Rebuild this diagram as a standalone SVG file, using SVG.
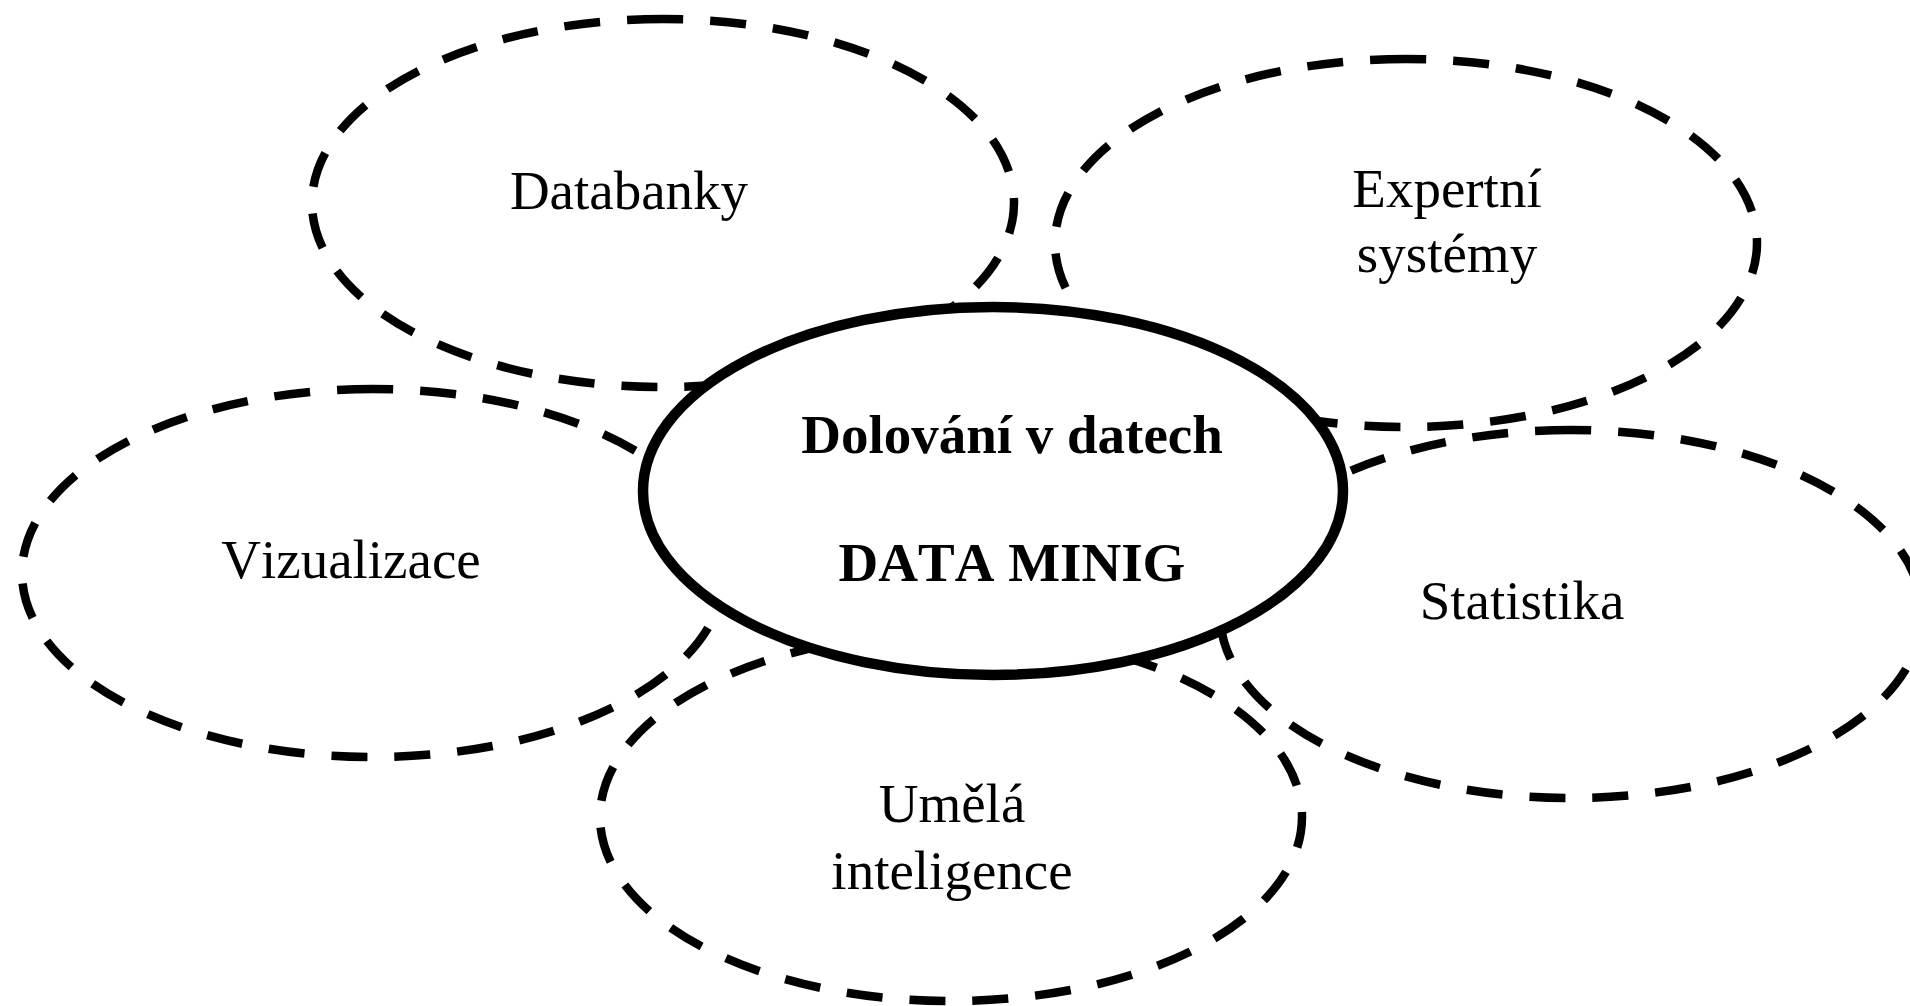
<svg xmlns="http://www.w3.org/2000/svg" width="1910" height="1006" viewBox="0 0 1910 1006">
  <style>
    .area { fill: none; stroke: #000; stroke-width: 8.5; stroke-dasharray: 36 27; stroke-linecap: butt; }
    .core { fill: #fff; stroke: #000; stroke-width: 10.5; }
    .lbl { font-family: "Liberation Serif", "Times New Roman", serif; font-size: 55px; fill: #000; text-anchor: middle; font-kerning: none; }
    .main { font-family: "Liberation Serif", "Times New Roman", serif; font-size: 55px; font-weight: bold; fill: #000; text-anchor: middle; font-kerning: none; }
  </style>
  <rect width="1910" height="1006" fill="#fff"/>

  <!-- surrounding fields: dashed outlines drawn from the top, counter-clockwise -->
  <g id="databanky">
    <path class="area" d="M663,19 A351,184 0 0 0 663,387 A351,184 0 0 0 663,19 Z"/>
    <text class="lbl" x="629" y="209">Databanky</text>
  </g>
  <g id="expertni-systemy">
    <path class="area" d="M1406,59 A351,184 0 0 0 1406,427 A351,184 0 0 0 1406,59 Z"/>
    <text class="lbl" x="1447" y="207">Expertní</text>
    <text class="lbl" x="1447" y="272">systémy</text>
  </g>
  <g id="vizualizace">
    <path class="area" d="M373,389 A351,184 0 0 0 373,757 A351,184 0 0 0 373,389 Z"/>
    <text class="lbl" x="351" y="578">Vizualizace</text>
  </g>
  <g id="statistika">
    <path class="area" d="M1571,430 A351,184 0 0 0 1571,798 A351,184 0 0 0 1571,430 Z"/>
    <text class="lbl" x="1522" y="619">Statistika</text>
  </g>
  <g id="umela-inteligence">
    <path class="area" d="M951,633 A351,184 0 0 0 951,1001 A351,184 0 0 0 951,633 Z"/>
    <text class="lbl" x="952" y="822">Umělá</text>
    <text class="lbl" x="952" y="889">inteligence</text>
  </g>

  <!-- no connectors: the fields only overlap the core -->
  <g id="connectors"></g>

  <!-- central field, drawn last so it covers the overlaps -->
  <g id="dolovani">
    <ellipse class="core" cx="993" cy="491" rx="350" ry="184"/>
    <text class="main" x="1012" y="453">Dolování v datech</text>
    <text class="main" x="1012" y="581">DATA MINIG</text>
  </g>
</svg>
